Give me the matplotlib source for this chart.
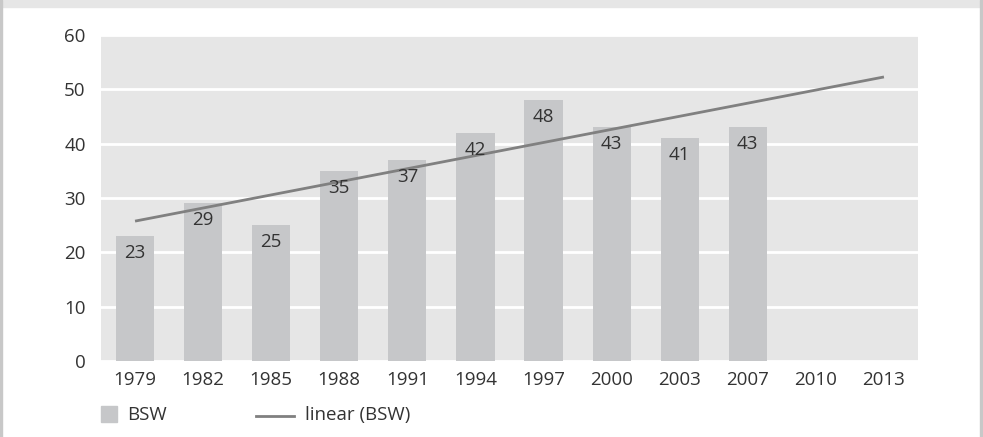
import numpy as np
import matplotlib
matplotlib.use("Agg")
import matplotlib.pyplot as plt
from matplotlib.patches import Rectangle
from matplotlib.lines import Line2D

plt.rcParams['font.family'] = ['Open Sans', 'DejaVu Sans']

years = ['1979', '1982', '1985', '1988', '1991', '1994', '1997', '2000',
         '2003', '2007', '2010', '2013']
bsw = [23, 29, 25, 35, 37, 42, 48, 43, 41, 43]

BAR = '#c6c7c9'
BG = '#e6e6e6'
TREND = '#808080'
TXT = '#333333'
FS = 13.5

fig = plt.figure(figsize=(9.83, 4.37), dpi=100)
W, H = 983, 437

# frame: top band plus thin side borders
fig.patches.append(Rectangle((0, 1 - 7 / H), 1, 7 / H, transform=fig.transFigure,
                             color=BG, zorder=0))
fig.patches.append(Rectangle((0, 0), 2 / W, 1, transform=fig.transFigure,
                             color='#c8c8c8', zorder=0))
fig.patches.append(Rectangle((1 - 3 / W, 0), 2 / W, 1, transform=fig.transFigure,
                             color='#c8c8c8', zorder=0))

ax = fig.add_axes([101 / W, (H - 361) / H, (918 - 101) / W, (361 - 35) / H])
ax.set_facecolor(BG)
for s in ax.spines.values():
    s.set_visible(False)

x = np.arange(len(years))
xb = x[:len(bsw)]
ax.bar(xb, bsw, width=0.56, color=BAR, zorder=2)
for xi, v in zip(xb, bsw):
    ax.annotate(str(v), (xi, v), xytext=(0, -17), textcoords='offset pixels',
                ha='center', va='center', fontsize=FS, color=TXT, zorder=4)

# linear trend of the series, extended over all categories
k, b0 = np.polyfit(xb, bsw, 1)
ax.plot([x[0], x[-1]], [b0 + k * x[0], b0 + k * x[-1]], color=TREND, lw=2, zorder=3,
        solid_capstyle='butt')

ax.set_xlim(-0.5, len(years) - 0.5)
ax.set_ylim(0, 60)
ax.set_yticks(range(0, 61, 10))
ax.set_xticks(x)
ax.set_xticklabels(years)
ax.tick_params(length=0, labelsize=FS, labelcolor=TXT)
ax.tick_params(axis='y', pad=11)
ax.tick_params(axis='x', pad=7)
ax.yaxis.grid(True, color='white', lw=2)
ax.set_axisbelow(True)

# legend
fig.patches.append(Rectangle((101 / W, (H - 422) / H), 16 / W, 16 / H,
                             transform=fig.transFigure, color=BAR))
fig.text(127 / W, (H - 415) / H, 'BSW', fontsize=FS, color=TXT, va='center')
fig.lines.append(Line2D([256 / W, 294 / W], [(H - 416) / H] * 2,
                        transform=fig.transFigure, color=TREND, lw=2))
fig.text(305 / W, (H - 415) / H, 'linear (BSW)', fontsize=FS, color=TXT,
         va='center')

fig.savefig('out.png', dpi=100, facecolor='white')
